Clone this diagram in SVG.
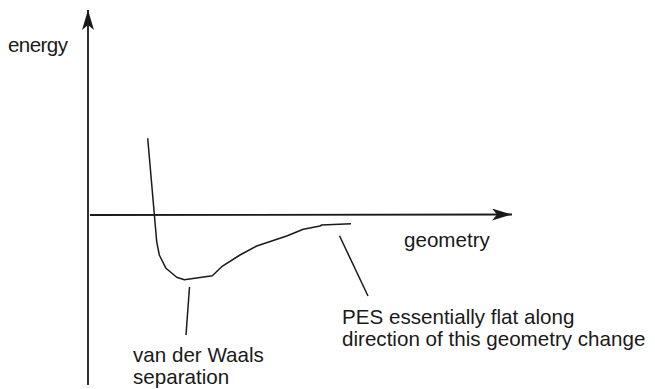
<svg xmlns="http://www.w3.org/2000/svg" width="655" height="389" viewBox="0 0 655 389">
<style>
.ln{fill:none;stroke:#1a1a1a;stroke-width:1.5;stroke-linejoin:round}
.ax{fill:none;stroke:#1a1a1a;stroke-width:1.8}
text{font-family:"Liberation Sans",Arial,sans-serif;font-size:20.6px;fill:#1a1a1a}
</style>
<defs>
<marker id="ah" viewBox="0 0 20 12" refX="20" refY="6" markerWidth="20" markerHeight="12" markerUnits="userSpaceOnUse" orient="auto">
<path d="M0,0 L20,6 L0,12 L5,6 Z" fill="#1a1a1a"/>
</marker>
</defs>
<g id="connectors">
<line class="ax" x1="88" y1="385" x2="88" y2="10" marker-end="url(#ah)"/>
<line class="ax" x1="90" y1="215" x2="512" y2="214.5" marker-end="url(#ah)"/>
<polyline class="ln" points="147.7,138.3 156.7,241.7 159.3,255 166,268.3 176.7,277.3 184.3,279.7 212.3,275.7 221.7,266.7 240,255 256.7,246 286.7,236 303.3,229.3 320,226 321.7,225 351,223.7"/>
<line class="ln" x1="189.5" y1="287" x2="186" y2="335"/>
<line class="ln" x1="339.5" y1="235.7" x2="368" y2="296"/>
</g>
<g id="energy"><text x="8" y="52" textLength="60">energy</text></g>
<g id="geometry"><text x="404" y="247">geometry</text></g>
<g id="pes"><text x="342" y="324">PES essentially flat along</text><text x="342" y="346">direction of this geometry change</text></g>
<g id="vdw"><text x="133" y="362">van der Waals</text><text x="133" y="384">separation</text></g>
</svg>
